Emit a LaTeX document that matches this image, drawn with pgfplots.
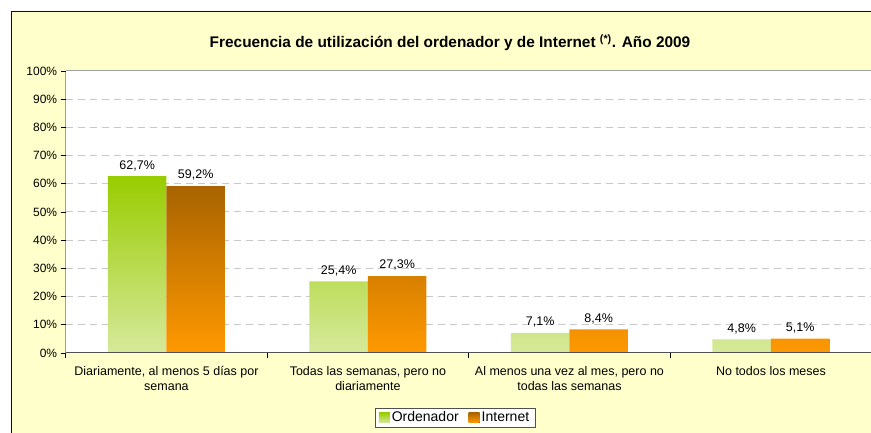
\documentclass[border=0pt]{standalone}
\usepackage{fontspec}
\setmainfont{Liberation Sans}
\usepackage{pgfplots}
\pgfplotsset{compat=1.18}
\definecolor{bgyellow}{HTML}{FFFFCC}
\definecolor{navyb}{HTML}{000080}
\definecolor{gtop}{HTML}{99CC00}
\definecolor{gbot}{HTML}{D7E99C}
\definecolor{otop}{HTML}{A86400}
\definecolor{obot}{HTML}{FF9900}
\definecolor{gridc}{HTML}{C8C8C8}
\definecolor{topl}{HTML}{A0A0A0}
\definecolor{botl}{HTML}{505050}
\newcommand\fs{\fontsize{12}{14}\selectfont}
\newcommand\fc{\fontsize{12.5}{15}\selectfont}
\begin{document}
\begin{tikzpicture}[x=1pt,y=1pt]
\fill[white] (0,0) rectangle (871,433);
\fill[bgyellow] (11.5,-5) rectangle (880,421.5);
\draw[navyb, line width=1pt] (11.5,-5) -- (11.5,421.5) -- (880,421.5);
\node[font=\bfseries\fontsize{15.4}{18}\selectfont, anchor=base] at (450,385.3) {Frecuencia de utilización del ordenador y de Internet \textsuperscript{(*)}. Año 2009};
\begin{axis}[
  at={(65.7pt,80pt)}, anchor=south west, scale only axis,
  width=806pt, height=282pt,
  xmin=-0.5, xmax=3.5, ymin=0, ymax=100,
  axis background/.style={fill=white},
  axis line style={draw=none},
  /pgf/number format/assume math mode=true,
  ybar=0pt, bar width=58.5pt,
  ytick={0,10,...,100},
  yticklabels={0\%,10\%,20\%,30\%,40\%,50\%,60\%,70\%,80\%,90\%,100\%},
  yticklabel style={font=\fs},
  xtick={-0.5,0.5,1.5,2.5,3.5},
  xticklabels={},
  xtick pos=bottom, ytick pos=left,
  extra x ticks={0,1,2,3},
  extra x tick labels={{Diariamente, al menos 5 días por\\semana}, {Todas las semanas, pero no\\diariamente}, {Al menos una vez al mes, pero no\\todas las semanas}, {No todos los meses}},
  extra x tick style={major tick length=0pt, xticklabel style={align=center, font=\fc, anchor=north, yshift=-10pt}},
  tick align=outside, major tick length=5pt,
  tick style={black, line width=0.6pt},
  ymajorgrids, major grid style={gridc, line width=1pt, dash pattern=on 7pt off 5pt},
  nodes near coords={\pgfmathprintnumber[fixed, fixed zerofill, precision=1, use comma]{\pgfplotspointmeta}\%},
  nodes near coords style={font=\fc, black, yshift=2pt},
  legend style={at={(0.483,-0.229)}, anchor=center, legend columns=2, draw=botl, fill=white,
    font=\fontsize{14}{16}\selectfont, inner xsep=4pt, inner ysep=2pt,
    /tikz/every even column/.append style={column sep=8pt}},
  legend image code/.code={\fill[#1] (0pt,-5pt) rectangle (11pt,5pt);},
]
\addplot[draw=none, top color=gtop, bottom color=gbot] coordinates {(0,62.7) (1,25.4) (2,7.1) (3,4.8)};
\addplot[draw=none, top color=otop, bottom color=obot] coordinates {(0,59.2) (1,27.3) (2,8.4) (3,5.1)};
\legend{Ordenador, Internet}
\draw[topl, line width=1pt] (rel axis cs:0,1) -- (rel axis cs:1,1);
\draw[black, line width=0.8pt] (rel axis cs:0,0) -- (rel axis cs:0,1);
\draw[botl, line width=1.6pt] (rel axis cs:0,0) -- (rel axis cs:1,0);
\end{axis}
\pgfresetboundingbox
\path[use as bounding box] (0,0) rectangle (871,433);
\end{tikzpicture}
\end{document}
